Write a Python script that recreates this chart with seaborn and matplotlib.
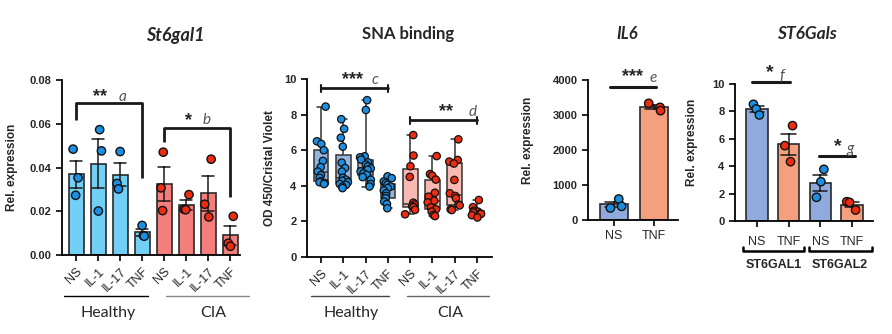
import numpy as np
import pandas as pd
import matplotlib
matplotlib.use("Agg")
import matplotlib.pyplot as plt
import seaborn as sns
from matplotlib.transforms import blended_transform_factory as btf
from matplotlib.ticker import FormatStrFormatter

sns.set_theme(style="ticks")
plt.rcParams['font.family'] = ['Liberation Sans', 'DejaVu Sans']
np.random.seed(7)

# ---------------- data ----------------
treatments = ["NS", "IL-1", "IL-17", "TNF"]
groups = ["Healthy", "CIA"]

# St6gal1 relative expression (3 replicates per condition)
st6gal1_healthy = [[0.0484, 0.0353, 0.0273],
                   [0.0573, 0.0476, 0.0201],
                   [0.0473, 0.0327, 0.0302],
                   [0.0135, 0.0089, 0.0086]]
st6gal1_cia = [[0.0470, 0.0307, 0.0203],
               [0.0276, 0.0209, 0.0207],
               [0.0438, 0.0232, 0.0174],
               [0.0177, 0.0054, 0.0040]]

# SNA binding (OD 450 / Cristal violet)
sna_healthy = [[8.45, 6.5, 6.35, 6.0, 5.4, 5.05, 4.8, 4.6, 4.45, 4.25, 4.2, 4.15, 4.1],
               [7.74, 7.2, 6.7, 6.2, 5.3, 5.0, 4.8, 4.45, 4.35, 4.28, 4.2, 4.1, 4.05, 3.95, 3.87],
               [8.81, 8.26, 5.66, 5.6, 5.47, 5.32, 5.19, 5.09, 4.98, 4.9, 4.81, 4.7, 4.62, 4.49, 4.34, 4.1, 3.96],
               [4.53, 4.43, 4.25, 4.15, 4.06, 3.96, 3.87, 3.74, 3.58, 3.43, 3.3, 3.11, 2.98, 2.74]]
sna_cia = [[6.85, 5.7, 5.1, 4.5, 3.05, 2.95, 2.85, 2.8, 2.65, 2.4],
           [5.67, 4.66, 4.57, 4.35, 3.61, 3.39, 3.16, 3.07, 2.79, 2.68, 2.55, 2.36, 2.3],
           [6.61, 5.45, 5.36, 5.25, 4.33, 3.58, 3.43, 3.3, 2.95, 2.9, 2.68, 2.64],
           [3.2, 2.8, 2.6, 2.55, 2.5, 2.45, 2.42, 2.35, 2.22]]

# IL6
il6_labels = ["NS", "TNF"]
il6_ns = [600, 390, 343]
il6_tnf = [3333, 3219, 3124]

# ST6Gals
st6gals_genes = ["ST6GAL1", "ST6GAL2"]
st6gals_ticks = ["NS", "TNF", "NS", "TNF"]
st6gal1_ns = [8.52, 8.18, 7.74]
st6gal1_tnf = [6.96, 5.50, 4.33]
st6gal2_ns = [3.77, 2.87, 1.73]
st6gal2_tnf = [1.41, 1.36, 0.80]

# ---------------- styles ----------------
W, H = 892, 334
BLUE_BAR = "#72CFF5"
RED_BAR = "#F47E7C"
BLUE_BOX = "#95B4DE"
RED_BOX = "#F8B9B2"
NS_BAR = "#8FAADC"
TNF_BAR = "#F4A07E"
BLUE_PT = "#1C8FE3"
RED_PT = "#EE2C12"
EDGE = "#2a2a2a"
LETTER = "#555555"
YTICK_FS = 8
YLAB_FS = 8.5
XTICK_FS = 9

fig = plt.figure(figsize=(W / 100, H / 100), dpi=100)


def make_ax(l, r, t, b):
    return fig.add_axes([l / W, 1 - b / H, (r - l) / W, (b - t) / H])


def fy(px):
    return 1 - px / H


def style_ax(ax):
    sns.despine(ax=ax)
    for s in ("left", "bottom"):
        ax.spines[s].set_linewidth(1.3)
        ax.spines[s].set_color("black")
    ax.tick_params(axis="both", direction="out", length=4, width=1.2, color="black")
    for lab in ax.get_yticklabels():
        lab.set_fontweight("bold")
        lab.set_fontsize(YTICK_FS)
    ax.set_xlabel("")


def build(groups_vals, group_names):
    rows = []
    for g, vals in zip(group_names, groups_vals):
        for t, v in zip(treatments, vals):
            for y in v:
                rows.append((f"{g}|{t}", g, y))
    return pd.DataFrame(rows, columns=["key", "group", "val"])


keys8 = [f"{g}|{t}" for g in groups for t in treatments]
tick8 = treatments + treatments
pt_pal = {"Healthy": BLUE_PT, "CIA": RED_PT}

# ---------------- Panel 1: St6gal1 ----------------
ax1 = make_ax(62, 240, 80, 255)
df1 = build([st6gal1_healthy, st6gal1_cia], groups)
bar_pal1 = {k: (BLUE_BAR if k.startswith("Healthy") else RED_BAR) for k in keys8}
sns.barplot(data=df1, x="key", y="val", hue="key", palette=bar_pal1, order=keys8,
            errorbar="se", capsize=0.55, err_kws={"linewidth": 1.1, "color": "#1a1a1a"},
            edgecolor=EDGE, linewidth=1.2, width=0.68, ax=ax1, legend=False, saturation=1)
sns.stripplot(data=df1, x="key", y="val", hue="group", palette=pt_pal, order=keys8,
              jitter=0.16, size=6, edgecolor="#111", linewidth=1, ax=ax1, legend=False, zorder=4)
ax1.set_ylim(0, 0.08)
ax1.set_xlim(-0.64, 7.45)
ax1.set_yticks([0, 0.02, 0.04, 0.06, 0.08])
ax1.yaxis.set_major_formatter(FormatStrFormatter("%.2f"))
ax1.set_xticks(range(8))
ax1.set_xticklabels(tick8, rotation=45, ha="right", rotation_mode="anchor", fontsize=XTICK_FS)
ax1.set_ylabel("Rel. expression", fontsize=YLAB_FS, fontweight="bold")
ax1.yaxis.set_label_coords(-0.247, 0.5)
style_ax(ax1)
# brackets
ax1.plot([0, 0, 3, 3], [0.0617, 0.0696, 0.0696, 0.035], color="k", lw=2, clip_on=False, solid_capstyle="butt")
ax1.text(1.1, 0.0723, "**", fontsize=13, fontweight="bold", ha="center", va="center")
ax1.text(2.1, 0.0722, "a", fontsize=11, style="italic", color=LETTER, ha="center", va="center", family="Lato")
ax1.plot([4, 4, 7, 7], [0.0516, 0.0582, 0.0582, 0.0264], color="k", lw=2, clip_on=False, solid_capstyle="butt")
ax1.text(5.1, 0.0615, "*", fontsize=13, fontweight="bold", ha="center", va="center")
ax1.text(5.95, 0.0618, "b", fontsize=11, style="italic", color=LETTER, ha="center", va="center", family="Lato")
fig.text(175 / W, fy(35), "St6gal1", fontsize=13, fontweight="bold", style="italic",
         ha="center", va="center", family="Lato")
tr1 = btf(ax1.transData, fig.transFigure)
ax1.plot([-0.55, 3.27], [fy(296), fy(296)], color="black", lw=1, transform=tr1, clip_on=False)
ax1.plot([4.09, 7.86], [fy(296), fy(296)], color="#888888", lw=1, transform=tr1, clip_on=False)
fig.text(108 / W, fy(313), "Healthy", fontsize=11.5, ha="center", va="center", family="Lato")
fig.text(213 / W, fy(313), "CIA", fontsize=11.5, ha="center", va="center", family="Lato")

# ---------------- Panel 2: SNA binding ----------------
ax2 = make_ax(307, 492, 79, 257)
df2 = build([sna_healthy, sna_cia], groups)
box_pal = {"Healthy": BLUE_BOX, "CIA": RED_BOX}
sns.boxplot(data=df2, x="key", y="val", hue="group", palette=box_pal, order=keys8,
            whis=(0, 100), width=0.66, linewidth=1.1, linecolor="#333333", fliersize=0,
            dodge=False, ax=ax2, legend=False, saturation=1)
sns.stripplot(data=df2, x="key", y="val", hue="group", palette=pt_pal, order=keys8,
              jitter=0.25, size=5.3, edgecolor="#111", linewidth=0.9, ax=ax2, legend=False, zorder=4)
ax2.set_ylim(0, 10)
ax2.set_xlim(-0.63, 7.67)
ax2.set_yticks([0, 2, 4, 6, 8, 10])
ax2.set_xticks(range(8))
ax2.set_xticklabels(tick8, rotation=45, ha="right", rotation_mode="anchor", fontsize=XTICK_FS)
ax2.set_ylabel("OD 450/Cristal Violet", fontsize=YLAB_FS, fontweight="bold")
ax2.yaxis.set_label_coords(-0.17, 0.5)
style_ax(ax2)
ax2.plot([0, 3], [9.47, 9.47], color="k", lw=2, clip_on=False)
for xx in (0, 3):
    ax2.plot([xx, xx], [9.25, 9.69], color="k", lw=1.5, clip_on=False)
ax2.text(1.43, 9.95, "***", fontsize=13, fontweight="bold", ha="center", va="center")
ax2.text(2.4, 9.95, "c", fontsize=11, style="italic", color=LETTER, ha="center", va="center", family="Lato")
ax2.plot([4, 7], [7.67, 7.67], color="k", lw=2, clip_on=False)
for xx in (4, 7):
    ax2.plot([xx, xx], [7.45, 7.89], color="k", lw=1.5, clip_on=False)
ax2.text(5.62, 8.15, "**", fontsize=13, fontweight="bold", ha="center", va="center")
ax2.text(6.82, 8.15, "d", fontsize=11, style="italic", color=LETTER, ha="center", va="center", family="Lato")
fig.text(408 / W, fy(34), "SNA binding", fontsize=12, fontweight="bold", ha="center", va="center", family="Lato")
tr2 = btf(ax2.transData, fig.transFigure)
ax2.plot([-0.45, 3.05], [fy(296), fy(296)], color="#444444", lw=1, transform=tr2, clip_on=False)
ax2.plot([3.86, 7.53], [fy(296), fy(296)], color="#666666", lw=1, transform=tr2, clip_on=False)
fig.text(351 / W, fy(313), "Healthy", fontsize=11.5, ha="center", va="center", family="Lato")
fig.text(450 / W, fy(313), "CIA", fontsize=11.5, ha="center", va="center", family="Lato")

# ---------------- Panel 3: IL6 ----------------
ax3 = make_ax(588, 678, 80, 220)
df3 = pd.DataFrame({"key": ["NS"] * len(il6_ns) + ["TNF"] * len(il6_tnf),
                    "val": il6_ns + il6_tnf})
sns.barplot(data=df3, x="key", y="val", hue="key", palette={"NS": NS_BAR, "TNF": TNF_BAR},
            order=il6_labels, errorbar="se", capsize=0.45,
            err_kws={"linewidth": 1.1, "color": "#1a1a1a"},
            edgecolor=EDGE, linewidth=1.2, width=0.7, ax=ax3, legend=False, saturation=1)
sns.stripplot(data=df3, x="key", y="val", hue="key", palette={"NS": BLUE_PT, "TNF": RED_PT},
              order=il6_labels, jitter=0.2, size=6, edgecolor="#111", linewidth=1, ax=ax3,
              legend=False, zorder=4)
ax3.set_ylim(0, 4000)
ax3.set_xlim(-0.65, 1.6)
ax3.set_yticks([0, 1000, 2000, 3000, 4000])
ax3.set_xticks([0, 1])
ax3.set_xticklabels(il6_labels, fontsize=XTICK_FS)
ax3.set_ylabel("Rel. expression", fontsize=YLAB_FS, fontweight="bold")
ax3.yaxis.set_label_coords(-0.6, 0.57)
style_ax(ax3)
ax3.plot([-0.1, 1.05], [3810, 3810], color="k", lw=2.2, clip_on=False)
ax3.text(0.45, 4090, "***", fontsize=13, fontweight="bold", ha="center", va="center")
ax3.text(0.98, 4060, "e", fontsize=11, style="italic", color=LETTER, ha="center", va="center", family="Lato")
fig.text(627 / W, fy(34), "IL6", fontsize=12, fontweight="bold", style="italic", ha="center", va="center", family="Lato")

# ---------------- Panel 4: ST6Gals ----------------
ax4 = make_ax(735, 873, 84, 221)
keys4 = ["G1|NS", "G1|TNF", "G2|NS", "G2|TNF"]
vals4 = [st6gal1_ns, st6gal1_tnf, st6gal2_ns, st6gal2_tnf]
rows4 = [(k, k.split("|")[1], v) for k, vs in zip(keys4, vals4) for v in vs]
df4 = pd.DataFrame(rows4, columns=["key", "trt", "val"])
sns.barplot(data=df4, x="key", y="val", hue="trt", palette={"NS": NS_BAR, "TNF": TNF_BAR},
            order=keys4, errorbar="se", capsize=0.45, dodge=False,
            err_kws={"linewidth": 1.1, "color": "#1a1a1a"},
            edgecolor=EDGE, linewidth=1.2, width=0.68, ax=ax4, legend=False, saturation=1)
sns.stripplot(data=df4, x="key", y="val", hue="trt", palette={"NS": BLUE_PT, "TNF": RED_PT},
              order=keys4, jitter=0.18, size=6, edgecolor="#111", linewidth=1, ax=ax4,
              legend=False, zorder=4)
ax4.set_ylim(0, 10)
ax4.set_xlim(-0.69, 3.66)
ax4.set_yticks([0, 2, 4, 6, 8, 10])
ax4.set_xticks(range(4))
ax4.set_xticklabels(st6gals_ticks, fontsize=XTICK_FS)
ax4.tick_params(axis="x", pad=7)
ax4.set_ylabel("Rel. expression", fontsize=YLAB_FS, fontweight="bold")
ax4.yaxis.set_label_coords(-0.27, 0.577)
style_ax(ax4)
ax4.plot([-0.15, 1.05], [10.17, 10.17], color="k", lw=2.2, clip_on=False)
ax4.text(0.42, 10.85, "*", fontsize=14, fontweight="bold", ha="center", va="center")
ax4.text(0.8, 10.6, "f", fontsize=11, style="italic", color=LETTER, ha="center", va="center", family="Lato")
ax4.plot([1.95, 3.1], [4.77, 4.77], color="k", lw=2.2, clip_on=False)
ax4.text(2.55, 5.45, "*", fontsize=14, fontweight="bold", ha="center", va="center")
ax4.text(2.95, 5.25, "g", fontsize=11, style="italic", color=LETTER, ha="center", va="center", family="Lato")
fig.text(807 / W, fy(34), "ST6Gals", fontsize=12.5, fontweight="bold", style="italic", ha="center", va="center", family="Lato")
tr4 = btf(ax4.transData, fig.transFigure)
for (x0, x1), gene in zip([(-0.45, 1.5), (1.63, 3.62)], st6gals_genes):
    ax4.plot([x0, x0, x1, x1], [fy(247), fy(251), fy(251), fy(247)], color="black", lw=1.8,
             transform=tr4, clip_on=False)
    ax4.text((x0 + x1) / 2, fy(265), gene, transform=tr4, fontsize=9, fontweight="bold",
             ha="center", va="center")

fig.savefig("out.png", dpi=100)
